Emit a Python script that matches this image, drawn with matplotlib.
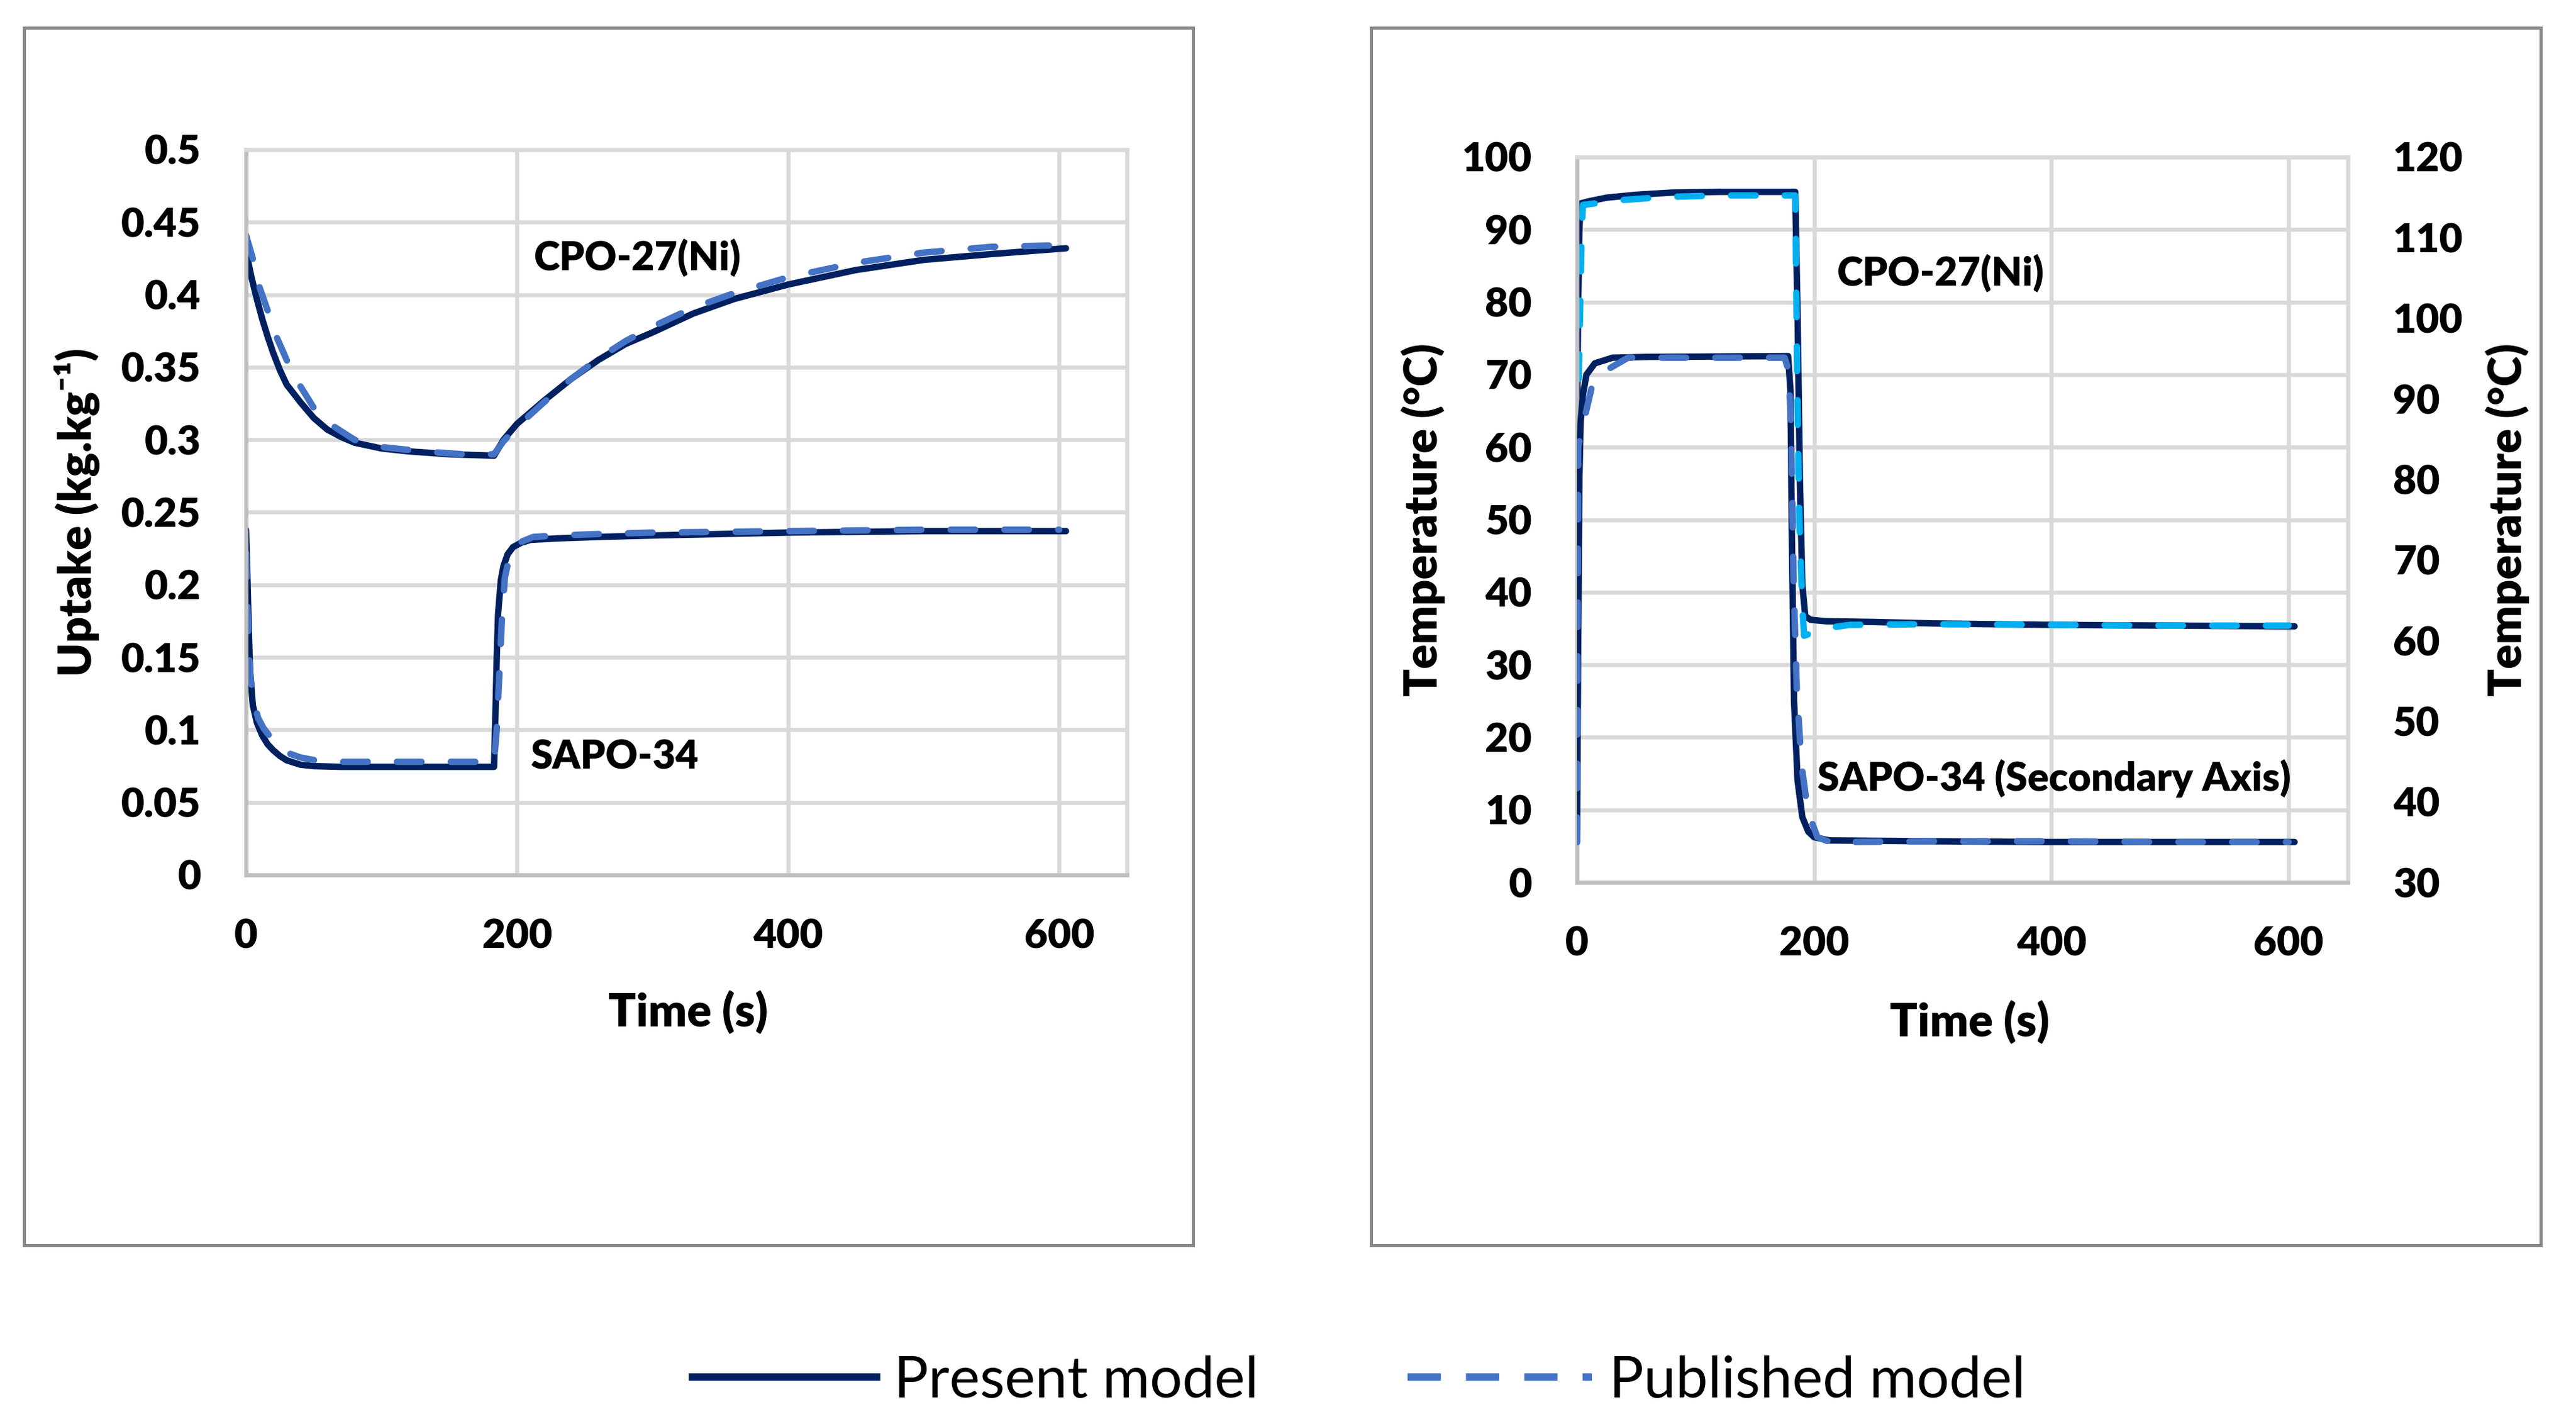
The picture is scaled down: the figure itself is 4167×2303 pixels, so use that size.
import matplotlib
matplotlib.use("Agg")

import numpy as np
import matplotlib.pyplot as plt
from matplotlib.lines import Line2D
from matplotlib.patches import Rectangle

plt.rcParams['font.family'] = ['Lato', 'DejaVu Sans']

# ---- uptake panel (kg/kg) ----
t_cpo_pre = [0, 4, 8, 12, 16, 20, 25, 30, 40, 50, 60, 70, 80, 100, 120, 150, 183,
             190, 200, 220, 240, 260, 280, 300, 330, 360, 400, 450, 500, 550, 605]
q_cpo_pre = [0.430, 0.412, 0.397, 0.383, 0.371, 0.360, 0.348, 0.338, 0.326, 0.315, 0.307,
             0.302, 0.298, 0.294, 0.292, 0.290, 0.289,
             0.300, 0.311, 0.327, 0.342, 0.355, 0.366, 0.374, 0.387, 0.397, 0.407,
             0.417, 0.424, 0.428, 0.432]

t_cpo_pub = [0, 5, 10, 16, 22, 30, 40, 50, 60, 80, 100, 130, 160, 183,
             190, 200, 220, 240, 260, 280, 300, 330, 360, 400, 450, 500, 550, 600]
q_cpo_pub = [0.441, 0.425, 0.405, 0.389, 0.372, 0.355, 0.337, 0.322, 0.312, 0.300, 0.295,
             0.292, 0.290, 0.290,
             0.299, 0.309, 0.326, 0.342, 0.356, 0.368, 0.378, 0.391, 0.401, 0.412,
             0.422, 0.429, 0.433, 0.434]

t_sapo_pre = [0, 1, 2, 3, 5, 8, 12, 16, 20, 25, 30, 40, 50, 70, 100, 150, 183,
              184, 185, 186, 188, 190, 193, 197, 203, 210, 230, 260, 300, 350, 400, 500, 605]
q_sapo_pre = [0.238, 0.205, 0.170, 0.140, 0.117, 0.105, 0.096, 0.090, 0.086, 0.082, 0.079,
              0.076, 0.075, 0.0745, 0.0745, 0.0745, 0.0745,
              0.110, 0.150, 0.180, 0.203, 0.213, 0.221, 0.226, 0.229, 0.231, 0.232,
              0.233, 0.234, 0.235, 0.236, 0.237, 0.237]

t_sapo_pub = [0, 1, 2, 3.5, 6, 9, 13, 18, 24, 31, 40, 51, 70, 100, 150, 183,
              185, 187, 189, 191, 194, 198, 204, 212, 230, 260, 300, 400, 500, 600]
q_sapo_pub = [0.222, 0.185, 0.155, 0.135, 0.118, 0.108, 0.101, 0.095, 0.089, 0.084, 0.081,
              0.079, 0.078, 0.078, 0.078, 0.078,
              0.100, 0.140, 0.180, 0.205, 0.218, 0.226, 0.230, 0.233, 0.234, 0.235,
              0.236, 0.237, 0.238, 0.238]

# ---- temperature panel (deg C) ----
t_cpoT_pre = [0, 1, 2, 3, 10, 25, 50, 80, 120, 184, 186, 188, 190, 192.5, 197, 210,
              250, 300, 400, 500, 605]
T_cpo_pre = [63, 80, 90, 93.6, 93.9, 94.4, 94.8, 95.1, 95.2, 95.2, 78, 55, 41, 36.7, 36.2,
             36.0, 35.9, 35.7, 35.5, 35.4, 35.3]

t_cpoT_pub = [0, 1, 2.5, 4, 5, 20, 40, 75, 120, 184, 185, 186, 187.5, 190, 191.5, 200,
              208, 230, 300, 400, 500, 600]
T_cpo_pub = [62, 66, 78, 90, 93.4, 93.7, 94.1, 94.5, 94.7, 94.7, 80, 65, 50, 38, 34, 34.5,
             35.0, 35.5, 35.6, 35.5, 35.4, 35.4]

# SAPO-34 on the secondary axis
t_sapoT_pre = [0, 1, 2, 3, 5, 8, 15, 30, 60, 178, 180, 181, 183, 186, 190, 195, 200, 213,
               300, 400, 605]
T_sapo_pre = [35, 60, 80, 87, 90.5, 93, 94.4, 95.1, 95.2, 95.3, 91, 75, 52.5, 42.6, 38.1,
              36.3, 35.6, 35.2, 35.1, 35.0, 35.0]

t_sapoT_pub = [0, 1, 4, 7, 13, 23, 43, 100, 175, 178, 180, 181.3, 182.7, 185.3, 189.3,
               194.7, 202.7, 218.7, 233, 300, 400, 500, 600]
T_sapo_pub = [35, 84, 86, 88, 91.8, 93.4, 95.1, 95.1, 95.1, 93.7, 88.5, 79.7, 66.9, 54.1,
              44.6, 38.8, 35.6, 34.7, 35.0, 35.1, 35.1, 35.0, 35.0]

x_ticks = [0, 200, 400, 600]
uptake_ticks = [0, 0.05, 0.1, 0.15, 0.2, 0.25, 0.3, 0.35, 0.4, 0.45, 0.5]
temp_ticks = [0, 10, 20, 30, 40, 50, 60, 70, 80, 90, 100]
temp2_ticks = [30, 40, 50, 60, 70, 80, 90, 100, 110, 120]

NAVY = '#002060'
BLUE = '#4472C4'
CYAN = '#00B0F0'
GRID = '#D9D9D9'
AXIS = '#BFBFBF'
LW = 7.5
DASH = (0, (3.8, 4.55))
B = 800  # Lato ExtraBold, closer to the heavy Calibri Bold of the original

fig = plt.figure(figsize=(41.67, 23.03), dpi=100)

def style_axes(ax):
    ax.set_xlim(0, 650)
    ax.set_xticks(x_ticks, [str(v) for v in x_ticks], fontweight=B)
    ax.grid(True, color=GRID, linewidth=4.7)
    ax.set_axisbelow(True)
    for s in ['top', 'right']:
        ax.spines[s].set_color(GRID)
        ax.spines[s].set_linewidth(4.7)
    for s in ['left', 'bottom']:
        ax.spines[s].set_color(AXIS)
        ax.spines[s].set_linewidth(4.7)
    ax.tick_params(axis='both', length=0, labelsize=47)
    ax.tick_params(axis='y', pad=52.5)
    ax.tick_params(axis='x', pad=51)

def draw(ax, t, y, pub=False, color=NAVY):
    if pub:
        ax.plot(t, y, color=color, linewidth=LW, linestyle=DASH,
                dash_capstyle='round')
    else:
        ax.plot(t, y, color=color, linewidth=LW, solid_capstyle='round',
                solid_joinstyle='round')

# 左パネル: uptake
axl = fig.add_axes([0.09551, 0.38559, 0.43748 - 0.09551, 0.89492 - 0.38559])
axl.set_ylim(0, 0.5)
axl.set_yticks(uptake_ticks, ['{:g}'.format(v) for v in uptake_ticks], fontweight=B)
style_axes(axl)
draw(axl, t_cpo_pre, q_cpo_pre)
draw(axl, t_cpo_pub, q_cpo_pub, pub=True, color=BLUE)
draw(axl, t_sapo_pre, q_sapo_pre)
draw(axl, t_sapo_pub, q_sapo_pub, pub=True, color=BLUE)
axl.text(212, 0.4257, 'CPO-27(Ni)', fontsize=46, fontweight=B, va='center', ha='left')
axl.text(210, 0.081, 'SAPO-34', fontsize=46, fontweight=B, va='center', ha='left')
axl.set_xlabel('Time (s)', fontsize=53, fontweight=B, va='center')
axl.xaxis.set_label_coords(0.502, -0.19)
axl.set_ylabel('Uptake (kg.kg⁻¹)', fontsize=53, fontweight=B, va='center')
axl.yaxis.set_label_coords(-0.1916, 0.5)

# 右パネル: temperature
axr = fig.add_axes([0.61219, 0.38037, 0.91145 - 0.61219, 0.88971 - 0.38037])
axr.set_ylim(0, 100)
axr.set_yticks(temp_ticks, [str(v) for v in temp_ticks], fontweight=B)
style_axes(axr)
draw(axr, t_cpoT_pre, T_cpo_pre)
draw(axr, t_cpoT_pub, T_cpo_pub, pub=True, color=CYAN)
axr.text(219, 84, 'CPO-27(Ni)', fontsize=46, fontweight=B, va='center', ha='left')
axr.text(203, 14.3, 'SAPO-34 (Secondary Axis)', fontsize=46, fontweight=B,
         va='center', ha='left')
axr.set_xlabel('Time (s)', fontsize=53, fontweight=B, va='center')
axr.xaxis.set_label_coords(0.509, -0.1935)
axr.set_ylabel('Temperature (°C)', fontsize=53, fontweight=B, va='center')
axr.yaxis.set_label_coords(-0.1997, 0.5)

ax2 = axr.twinx()
ax2.set_ylim(30, 120)
ax2.set_yticks(temp2_ticks, [str(v) for v in temp2_ticks], fontweight=B)
for s in ax2.spines.values():
    s.set_visible(False)
ax2.tick_params(axis='y', length=0, labelsize=47, pad=52.5)
draw(ax2, t_sapoT_pre, T_sapo_pre)
draw(ax2, t_sapoT_pub, T_sapo_pub, pub=True, color=BLUE)
ax2.set_ylabel('Temperature (°C)', fontsize=53, fontweight=B, va='center', rotation=90)
ax2.yaxis.set_label_coords(1.207, 0.5)

# 外枠
for x0, w in [(0.00936, 0.4538), (0.53228, 0.4540)]:
    fig.add_artist(Rectangle((x0, 0.1255), w, 0.855, transform=fig.transFigure,
                             fill=False, edgecolor='#898989', linewidth=3.6))

# 凡例
h1 = Line2D([], [], color=NAVY, linewidth=8.6)
h2 = Line2D([], [], color=BLUE, linewidth=8.6, linestyle=(0, (4.5, 3.4)))
fig.legend([h1, h2], ['Present model', 'Published model'], loc='center',
           bbox_to_anchor=(0.5275, 0.03), ncol=2, frameon=False,
           prop={'size': 67, 'weight': 'normal'},
           handlelength=3.2, handletextpad=0.3, columnspacing=2.6, borderaxespad=0)

fig.savefig('out.png', dpi=100)
